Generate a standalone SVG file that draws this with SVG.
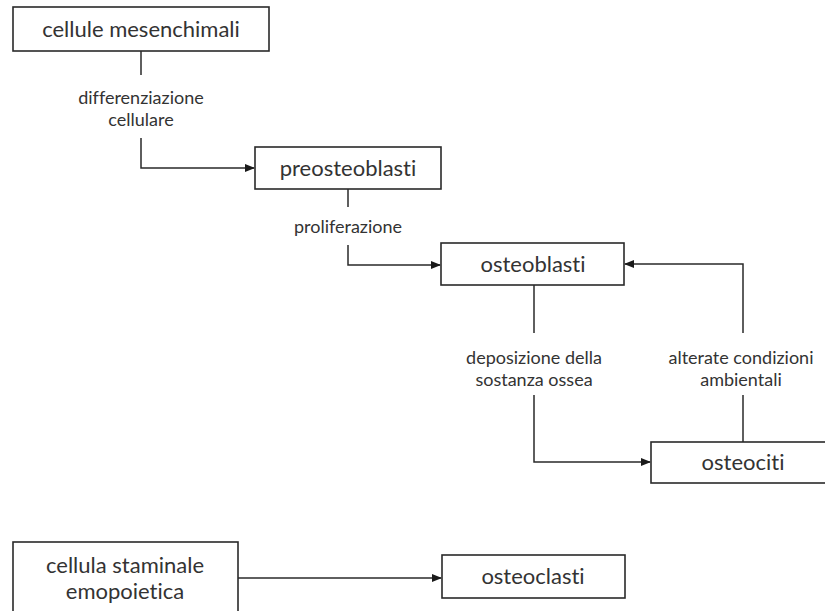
<svg xmlns="http://www.w3.org/2000/svg" width="825" height="611" viewBox="0 0 825 611">
<style>
.box{fill:#fff;stroke:#2a2a2a;stroke-width:1.6}
.nt{font-family:Lato,"Open Sans",sans-serif;font-size:22px;fill:#333;text-anchor:middle;font-variant-ligatures:none}
.et{font-family:Lato,"Open Sans",sans-serif;font-size:18px;fill:#333;text-anchor:middle;font-variant-ligatures:none}
.ln{fill:none;stroke:#2a2a2a;stroke-width:1.5}
</style>
<defs>
<marker id="ah" markerWidth="10" markerHeight="8" refX="9" refY="4" orient="auto" markerUnits="userSpaceOnUse">
<path d="M0,0 L10,4 L0,8 Z" fill="#1a1a1a"/>
</marker>
</defs>
<rect width="825" height="611" fill="#fff"/>
<g id="connectors">
<path class="ln" d="M141,51 V75"/>
<path class="ln" d="M141,138 V168 H254" marker-end="url(#ah)"/>
<path class="ln" d="M348,189 V207"/>
<path class="ln" d="M348,245 V265 H440" marker-end="url(#ah)"/>
<path class="ln" d="M534,285 V333"/>
<path class="ln" d="M534,395 V462 H650" marker-end="url(#ah)"/>
<path class="ln" d="M743,442 V395"/>
<path class="ln" d="M743,333 V264 H625" marker-end="url(#ah)"/>
<path class="ln" d="M238,578 H441" marker-end="url(#ah)"/>
<text class="et" x="141" y="104">differenziazione</text>
<text class="et" x="141" y="126">cellulare</text>
<text class="et" x="348" y="233">proliferazione</text>
<text class="et" x="534" y="364">deposizione della</text>
<text class="et" x="534" y="386">sostanza ossea</text>
<text class="et" x="741" y="364">alterate condizioni</text>
<text class="et" x="741" y="386">ambientali</text>
</g>
<g id="cellule-mesenchimali">
<rect class="box" x="13" y="7" width="256" height="44"/>
<text class="nt" x="141" y="37">cellule mesenchimali</text>
</g>
<g id="preosteoblasti">
<rect class="box" x="255" y="147" width="186" height="42"/>
<text class="nt" x="348" y="176">preosteoblasti</text>
</g>
<g id="osteoblasti">
<rect class="box" x="441" y="243" width="183" height="42"/>
<text class="nt" x="533" y="272">osteoblasti</text>
</g>
<g id="osteociti">
<rect class="box" x="651" y="442" width="190" height="41"/>
<text class="nt" x="743" y="470">osteociti</text>
</g>
<g id="cellula-staminale">
<rect class="box" x="13" y="542" width="225" height="80"/>
<text class="nt" x="125" y="573">cellula staminale</text>
<text class="nt" x="125" y="599">emopoietica</text>
</g>
<g id="osteoclasti">
<rect class="box" x="442" y="555" width="183" height="43"/>
<text class="nt" x="533" y="584">osteoclasti</text>
</g>
</svg>
